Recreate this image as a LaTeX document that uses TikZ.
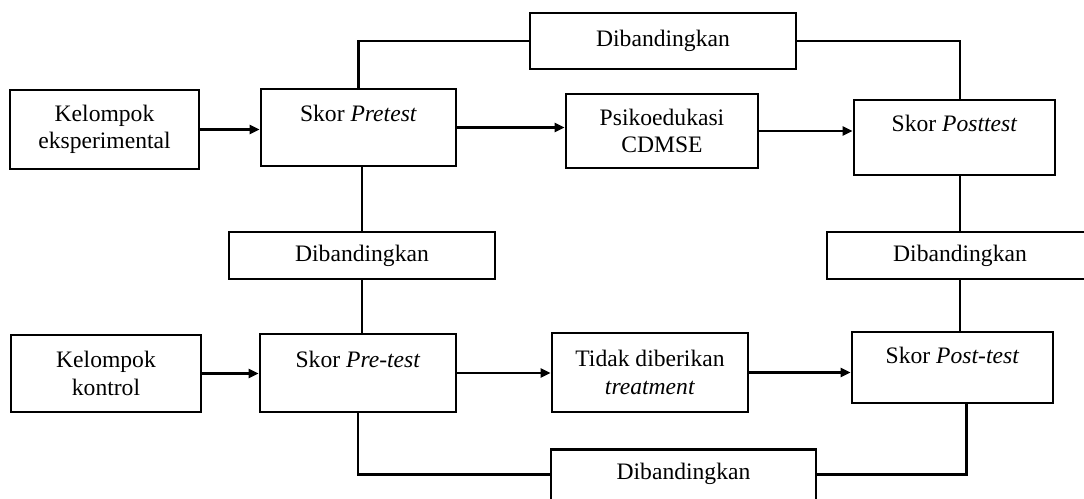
\documentclass[tikz,border=0pt]{standalone}
\usepackage{fontspec}
\setmainfont{Liberation Serif}
\usetikzlibrary{arrows.meta}

\begin{document}
\begin{tikzpicture}[x=0.5pt,y=-0.5pt,
  box/.style={rectangle,draw,line width=1.4pt,align=center,inner sep=2pt,
    font=\fontsize{11.8pt}{13.7pt}\selectfont},
  dib/.style={box,minimum width=133pt,minimum height=23.5pt},
  skor/.style={box,minimum width=98pt,minimum height=38.5pt},
  link/.style={line width=1.4pt},
  arr/.style={link,-{Triangle[length=5pt,width=4.5pt]}}]

\useasboundingbox (0,0) rectangle (1084,499);
\clip (0,0) rectangle (1084,499);

\node[box,minimum width=94.5pt,minimum height=39.5pt] (eksp) at (104.5,129.5) {Kelompok\\eksperimental};
\node[skor,minimum width=97.5pt] (pretest) at (358.5,127.5) {Skor \textit{Pretest}\\[-4pt] \strut};
\node[box,minimum width=96pt,minimum height=37pt] (psiko) at (662,131) {Psikoedukasi\\CDMSE};
\node[skor,minimum width=100.5pt,minimum height=37.5pt] (posttest) at (954.5,137.5) {Skor \textit{Posttest}\\[-4pt] \strut};

\node[dib,minimum height=28pt] (dibA) at (663,41) {Dibandingkan};
\node[dib] (dibL) at (362,255.5) {Dibandingkan};
\node[dib] (dibR) at (960,255.5) {Dibandingkan};

\node[box,minimum width=95pt,minimum height=38.5pt] (kontrol) at (106,373.5) {Kelompok\\kontrol};
\node[skor,minimum height=39pt] (pretestK) at (358,373) {Skor \textit{Pre-test}\\[-4pt] \strut};
\node[box,minimum width=98pt,minimum height=39.5pt] (tidak) at (650,372.5) {Tidak diberikan\\\textit{treatment}};
\node[skor,minimum width=100.5pt,minimum height=35.5pt] (posttestK) at (952.5,367.5) {Skor \textit{Post-test}\\[-6pt] \strut};

\node[box,anchor=north,minimum width=132.5pt,text height=13pt,text depth=40pt] (dibB) at (683.5,448) {Dibandingkan};

\draw[arr] (eksp.east) -- (eksp.east -| pretest.west);
\draw[arr] (pretest.east) -- (pretest.east -| psiko.west);
\draw[arr] (psiko.east) -- (psiko.east -| posttest.west);
\draw[arr] (kontrol.east) -- (kontrol.east -| pretestK.west);
\draw[arr] (pretestK.east) -- (pretestK.east -| tidak.west);
\draw[arr] (tidak.east) -- (tidak.east -| posttestK.west);

\draw[link] (pretest.north) |- (dibA.west);
\draw[link] (dibA.east) -| (posttest.north -| dibR.north);
\draw[link] (pretest.south -| dibL.north) -- (dibL.north);
\draw[link] (dibL.south) -- (dibL.south |- pretestK.north);
\draw[link] (posttest.south -| dibR.north) -- (dibR.north);
\draw[link] (dibR.south) -- (dibR.south |- posttestK.north);
\draw[link] (pretestK.south) |- (dibB.mid west);
\draw[link] ([xshift=7pt]posttestK.south) |- (dibB.mid east);
\end{tikzpicture}
\end{document}
